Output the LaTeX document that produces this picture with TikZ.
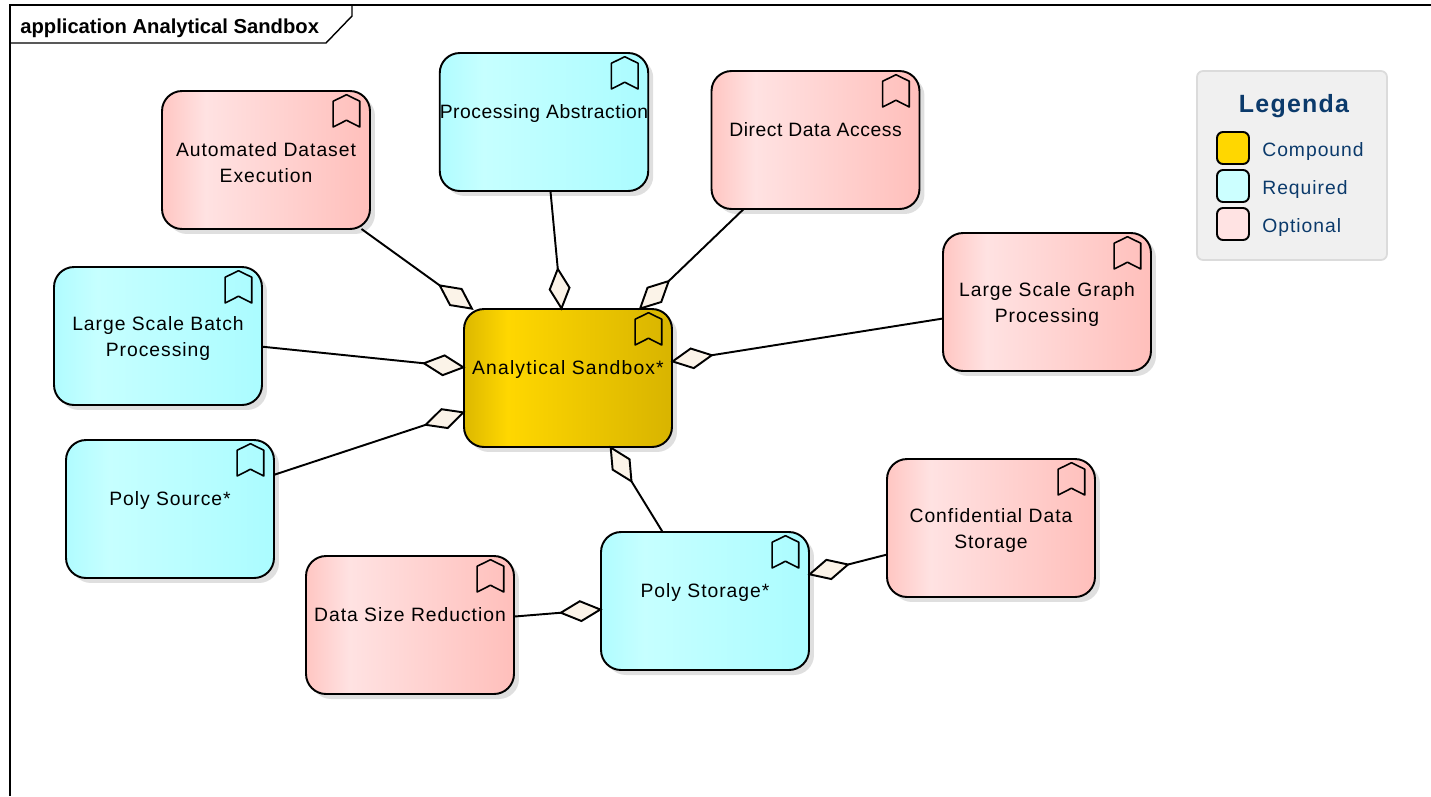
\documentclass[tikz,border=0pt]{standalone}
\usepackage{fontspec}
\setmainfont[LetterSpace=5]{Liberation Sans}
\newfontfamily\framefont{Liberation Sans}
\newfontfamily\tightfont[LetterSpace=2.8]{Liberation Sans}
\newfontfamily\widefont[LetterSpace=6]{Liberation Sans}
\usetikzlibrary{arrows.meta,shadows}
\definecolor{legendtext}{HTML}{0B3A6B}
\definecolor{diamondfill}{HTML}{FBF3E8}
\definecolor{compoundedge}{HTML}{DCB800}
\definecolor{compoundmid}{HTML}{FFD700}
\definecolor{compoundend}{HTML}{D8B400}
\definecolor{requirededge}{HTML}{B0FCFF}
\definecolor{requiredmid}{HTML}{C6FFFF}
\definecolor{requiredend}{HTML}{ABFCFF}
\definecolor{optionaledge}{HTML}{FFC6C2}
\definecolor{optionalmid}{HTML}{FFE2E2}
\definecolor{optionalend}{HTML}{FFBFBB}
\pgfdeclarehorizontalshading{compoundshade}{100bp}{color(0bp)=(compoundedge);color(25bp)=(compoundedge);color(35.5bp)=(compoundmid);color(75bp)=(compoundend);color(100bp)=(compoundend)}
\pgfdeclarehorizontalshading{requiredshade}{100bp}{color(0bp)=(requirededge);color(25bp)=(requirededge);color(35.5bp)=(requiredmid);color(75bp)=(requiredend);color(100bp)=(requiredend)}
\pgfdeclarehorizontalshading{optionalshade}{100bp}{color(0bp)=(optionaledge);color(25bp)=(optionaledge);color(35.5bp)=(optionalmid);color(75bp)=(optionalend);color(100bp)=(optionalend)}
\tikzset{bookmark/.pic={\draw[line width=.9pt,line join=round] (-13.3,6.5) -- (0,0) -- (13.3,6.5) -- (13.3,32.3) -- (0,25.5) -- (-13.3,32.3) -- cycle;}}
\begin{document}
\begin{tikzpicture}[x=.02cm,y=-.02cm]
% Set styles for the three kinds of nodes
\tikzstyle{Element}=[draw=black,line width=1.1pt,rounded corners=.4cm,align=center,font=\fontsize{11}{14.7}\selectfont,minimum width=4.16cm,minimum height=2.76cm,inner sep=0pt,outer sep=0pt,drop shadow={shadow xshift=.1cm,shadow yshift=-.1cm,fill=black!25}]
\tikzstyle{Compound}=[Element,shading=compoundshade]
\tikzstyle{Required}=[Element,shading=requiredshade]
\tikzstyle{Optional}=[Element,shading=optionalshade]
\tikzstyle{Swatch}=[draw=black,line width=1.1pt,rounded corners=.12cm,minimum width=.64cm,minimum height=.64cm,inner sep=0pt]
\tikzstyle{SwatchText}=[anchor=west,text=legendtext,inner sep=0pt,font=\fontsize{11}{13}\selectfont]
\useasboundingbox (0,0) rectangle (1431,796);
% Frame
\draw[line width=.8pt] (1431,5) -- (10,5) -- (10,796);
\draw[line width=.8pt] (10,43) -- (326,43) -- (352,16) -- (352,5);
\node[anchor=base west,inner sep=0pt,font=\framefont\bfseries\fontsize{11.5}{14}\selectfont] (frametitle) at (20,33) {application Analytical Sandbox};
% Nodes
\foreach [count=\i] \x/\y/\t/\n in {
    568/378/{\widefont Analytical Sandbox*\\\mbox{}}/Compound,
    266/160/{Automated Dataset\\Execution}/Optional,
    544/122/{\tightfont Processing Abstraction\\\mbox{}}/Required,
    815.5/140/{\tightfont Direct Data Access\\\mbox{}}/Optional,
    1047/302/{Large Scale Graph\\Processing}/Optional,
    158/336/{Large Scale Batch\\Processing}/Required,
    170/509/{Poly Source*\\\mbox{}}/Required,
    705/601/{Poly Storage*\\\mbox{}}/Required,
    410/625/{Data Size Reduction\\\mbox{}}/Optional,
    991/528/{Confidential Data\\Storage}/Optional}
  {\node[\n] at (\x,\y) (v\i) {\rule{0pt}{10.8pt}\t};
   \pic at ([shift={(-23.5,3.7)}]v\i.north east) {bookmark};}
% Edges
\foreach \i/\j in {2/1, 3/1, 4/1, 5/1, 6/1, 7/1, 8/1, 9/8, 10/8}
  \draw[line width=1.1pt,shorten >=-.03cm,-{Diamond[length=.88cm,width=.44cm,fill=diamondfill]}] (v\i) edge (v\j);
% Legend
\node[draw=black!14,line width=1pt,fill=black!6,rounded corners=.12cm,minimum width=3.8cm,minimum height=3.78cm,inner sep=0pt] (legend) at (1292,165.5) {};
\node[inner sep=0pt,text=legendtext,font=\bfseries\fontsize{14.2}{16}\selectfont] (legendtitle) at (1294,106) {Legenda};
\foreach \y/\t/\c in {148/Compound/FFD700, 186/Required/CCFFFF, 224/Optional/FFE3E3}
  {\definecolor{swatchcolor}{HTML}{\c}
   \node[Swatch,fill=swatchcolor] (s\t) at (1233,\y) {};
   \node[SwatchText] (l\t) at (1262,\y+3) {\t};}
\end{tikzpicture}
\end{document}
